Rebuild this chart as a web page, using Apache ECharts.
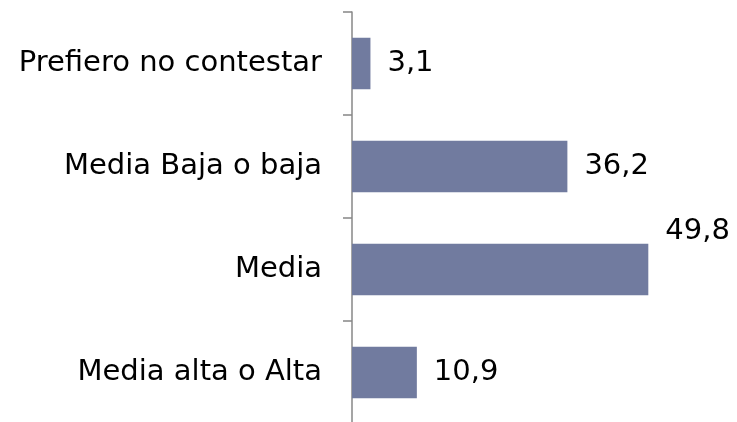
<!DOCTYPE html>
<html>
<head>
<meta charset="utf-8">
<script src="https://cdn.jsdelivr.net/npm/echarts@6/dist/echarts.min.js"></script>
<style>
html,body{margin:0;padding:0;background:#fff;}
#c{width:737px;height:422px;}
</style>
</head>
<body>
<div id="c"></div>
<script>
const categories = ["Prefiero no contestar", "Media Baja o baja", "Media", "Media alta o Alta"];
const values = [3.1, 36.2, 49.8, 10.9];

const FONT = "DejaVu Sans";
const chart = echarts.init(document.getElementById('c'), null, {renderer: 'canvas'});
chart.setOption({
  animation: false,
  grid: {left: 352, width: 357, top: 12, height: 412, containLabel: false, outerBoundsMode: 'none'},
  xAxis: {type: 'value', min: 0, max: 60, show: false},
  yAxis: {
    type: 'category',
    data: categories,
    inverse: true,
    axisLine: {show: true, lineStyle: {color: '#878787', width: 1.5}},
    axisTick: {show: true, inside: false, length: 9, alignWithLabel: false, lineStyle: {color: '#878787', width: 1.5}},
    axisLabel: {margin: 30, color: '#000', fontFamily: FONT, fontSize: 29},
    splitLine: {show: false}
  },
  series: [{
    type: 'bar',
    barWidth: '50%',
    itemStyle: {color: '#717b9f'},
    data: values.map((v, i) => ({
      value: v,
      label: i === 2 ? {offset: [0, -38]} : {}
    })),
    label: {
      show: true,
      position: 'right',
      distance: 17,
      color: '#000',
      fontFamily: FONT,
      fontSize: 29,
      formatter: p => String(p.value).replace('.', ',')
    }
  }]
});
</script>
</body>
</html>
